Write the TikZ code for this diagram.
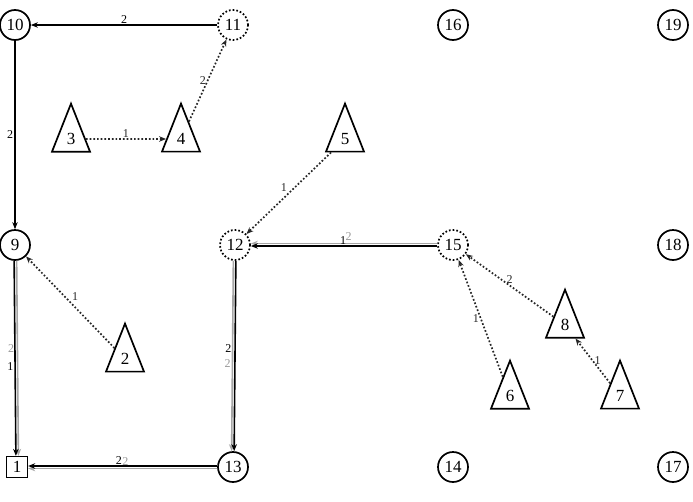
\documentclass[tikz,border=0pt]{standalone}
\usepackage{fontspec}
\setmainfont{Liberation Serif}
\usetikzlibrary{shapes.geometric,arrows.meta}
\begin{document}
\begin{tikzpicture}[x=1pt,y=-1pt,
  every node/.style={font=\fontsize{17}{17}\selectfont},
  circ/.style={circle,draw,line width=1.7pt,minimum size=30pt,inner sep=0pt},
  dcirc/.style={circle,draw,line width=1.7pt,dotted,minimum size=30pt,inner sep=0pt},
  sq/.style={rectangle,draw,line width=1.3pt,minimum size=21pt,inner sep=0pt},
  tri/.style={isosceles triangle,draw,line width=1.7pt,shape border rotate=90,
    isosceles triangle apex angle=43,isosceles triangle stretches=true,
    minimum width=38pt,minimum height=48pt,inner sep=0pt},
  tip/.style={-{Stealth[length=7pt,width=5.5pt]}},
  solidedge/.style={tip,line width=1.6pt,black},
  grayedge/.style={tip,line width=1.6pt,black!35},
  dotedge/.style={tip,line width=1.7pt,dotted,black!85},
  lab/.style={font=\fontsize{12}{12}\selectfont,inner sep=1pt},
  glab/.style={lab,text=black!40}]
\useasboundingbox (0,0) rectangle (693,501);
% nodes
\node[circ] (n10) at (15,25) {10};
\node[dcirc] (n11) at (233,25) {11};
\node[circ] (n16) at (453,25) {16};
\node[circ] (n19) at (673,25) {19};
\node[circ] (n9) at (15,245) {9};
\node[dcirc] (n12) at (235,245) {12};
\node[dcirc] (n15) at (453,245) {15};
\node[circ] (n18) at (673,245) {18};
\node[sq] (n1) at (17,467) {1};
\node[circ] (n13) at (233,467) {13};
\node[circ] (n14) at (453,467) {14};
\node[circ] (n17) at (673,467) {17};
\node[tri] (n3) at (71,139) {3};
\node[tri] (n4) at (181,139) {4};
\node[tri] (n5) at (345,139) {5};
\node[tri] (n2) at (125,359) {2};
\node[tri] (n8) at (565,325) {8};
\node[tri] (n6) at (510,396) {6};
\node[tri] (n7) at (620,396) {7};
% edges
\draw[solidedge] (n11) -- node[lab,above] {2} (n10);
\draw[solidedge] (n10) -- node[lab,left] {2} (n9);
\draw[dotedge] (n3) -- node[lab,above] {1} (n4);
\draw[dotedge] (n4) -- node[lab,left] {2} (n11);
\draw[dotedge] (n2) -- node[lab,above right] {1} (n9);
\draw[dotedge] (n5) -- node[lab,above left] {1} (n12);
\draw[dotedge] (n6) -- node[lab,left] {1} (n15);
\draw[dotedge] (n8) -- node[lab,above] {2} (n15);
\draw[dotedge] (n7) -- node[lab,right] {1} (n8);
% double edges
\draw[grayedge,transform canvas={xshift=1.5pt}] (n9) -- node[glab,left,pos=0.45,xshift=-1.5pt] {2} (n1);
\draw[solidedge,transform canvas={xshift=-1pt}] (n9) -- node[lab,left,pos=0.54] {1} (n1);
\draw[grayedge,transform canvas={xshift=-1.5pt}] (n12) -- node[glab,left,pos=0.54] {2} (n13);
\draw[solidedge,transform canvas={xshift=1pt}] (n12) -- node[lab,left,pos=0.46,xshift=-2pt] {2} (n13);
\draw[grayedge,transform canvas={yshift=1.5pt}] (n15) -- node[glab,above,pos=0.475,yshift=1.5pt] {2} (n12);
\draw[solidedge,transform canvas={yshift=-1pt}] (n15) -- node[lab,above,pos=0.505] {1} (n12);
\draw[grayedge,transform canvas={yshift=-1.5pt}] (n13) -- node[glab,above,pos=0.485,yshift=1.5pt] {2} (n1);
\draw[solidedge,transform canvas={yshift=1pt}] (n13) -- node[lab,above,pos=0.52] {2} (n1);
\end{tikzpicture}
\end{document}
